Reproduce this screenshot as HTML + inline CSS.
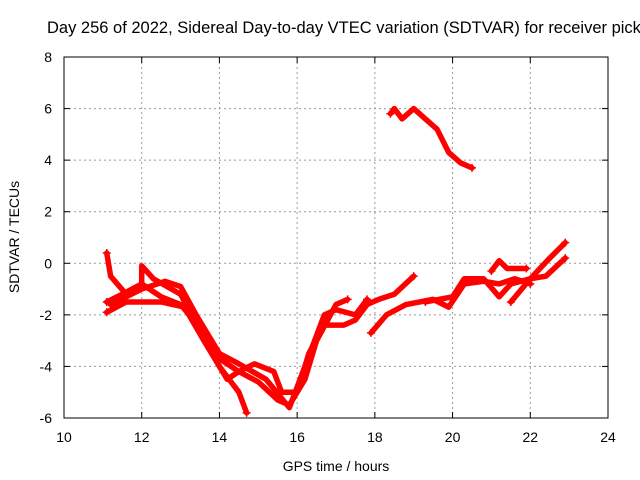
<!DOCTYPE html>
<html><head><meta charset="utf-8"><style>
html,body{margin:0;padding:0;background:#fff;overflow:hidden}
svg{display:block;font-family:"Liberation Sans",sans-serif}
</style></head><body>
<svg id="chart" width="640" height="480">
<text x="47" y="33" font-size="16.5" fill="#000">Day 256 of 2022, Sidereal Day-to-day VTEC variation (SDTVAR) for receiver pickle</text>
<g id="grid"></g>
<g id="series"></g>
<rect x="64" y="57" width="544" height="361" fill="none" stroke="#000" stroke-width="1"/>
<g id="ticks"></g>
<text x="336" y="471" font-size="14" text-anchor="middle">GPS time / hours</text>
<text transform="translate(19,237) rotate(-90)" font-size="14" text-anchor="middle">SDTVAR / TECUs</text>
</svg>
<script>
const xTicks=[10,12,14,16,18,20,22,24];
const yTicks=[-6,-4,-2,0,2,4,6,8];
const trackA=[[11.1,0.4],[11.2,-0.5],[11.6,-1.2],[12.0,-0.8],[12.5,-1.3],[13.0,-1.6],[13.5,-2.5],[14.0,-4.0],[14.5,-5.0],[14.7,-5.8]];
const trackB=[[11.1,-1.5],[11.5,-1.2],[12.0,-0.8],[12.0,-0.1],[12.3,-0.6],[13.0,-1.2],[13.5,-2.6],[14.0,-3.7],[14.5,-4.2],[15.0,-4.6],[15.5,-5.3],[15.8,-5.5],[16.2,-4.5],[16.5,-3.0],[17.0,-1.6],[17.3,-1.4]];
const trackC=[[11.1,-1.9],[11.6,-1.5],[12.5,-1.5],[13.1,-1.7],[13.6,-3.0],[14.2,-4.5],[14.5,-4.2],[14.9,-3.9],[15.4,-4.2],[15.6,-5.0],[16.0,-5.0],[16.3,-3.5],[16.7,-2.4],[17.2,-2.4],[17.5,-2.2],[17.8,-1.6],[18.1,-1.4],[18.5,-1.2],[19.0,-0.5]];
const trackD=[[11.2,-1.6],[12.0,-1.0],[12.6,-0.7],[13.0,-0.9],[13.4,-2.0],[14.0,-3.5],[14.5,-3.9],[15.2,-4.5],[15.8,-5.6],[16.2,-4.0],[16.7,-2.0],[17.0,-1.8],[17.5,-2.0],[17.8,-1.4]];
const trackE=[[17.9,-2.7],[18.3,-2.0],[18.8,-1.6],[19.5,-1.4],[19.9,-1.7],[20.3,-0.8],[20.8,-0.7],[21.2,-0.8],[21.6,-0.6],[22.0,-0.8]];
const trackF=[[19.3,-1.5],[20.0,-1.3],[20.3,-0.6],[20.8,-0.6],[21.2,-1.3],[21.5,-0.8],[22.0,-0.6],[22.4,-0.5],[22.9,0.2]];
const trackG=[[21.5,-1.5],[22.0,-0.6],[22.5,0.2],[22.9,0.8]];
const trackH=[[21.0,-0.3],[21.2,0.1],[21.4,-0.2],[21.7,-0.2],[21.9,-0.2]];
const trackI=[[18.4,5.8],[18.5,6.0],[18.7,5.6],[19.0,6.0],[19.3,5.6],[19.6,5.2],[19.9,4.3],[20.2,3.9],[20.5,3.7]];
const tracks=[trackA,trackB,trackC,trackD,trackE,trackF,trackG,trackH,trackI];

const NS='http://www.w3.org/2000/svg';
const X0=64,X1=608,Y0=418,Y1=57;
function sx(h){return X0+(h-10)/(24-10)*(X1-X0);}
function sy(v){return Y0-(v+6)/(8+6)*(Y0-Y1);}
function mk(t,a,parent){const e=document.createElementNS(NS,t);for(const k in a)e.setAttribute(k,a[k]);parent.appendChild(e);return e;}
const grid=document.getElementById('grid'),ticks=document.getElementById('ticks'),ser=document.getElementById('series');
xTicks.forEach(t=>{
  const x=sx(t);
  if(t>10&&t<24){const g=mk('line',{x1:x,x2:x,y1:Y1,y2:Y0,stroke:'#999','stroke-dasharray':'2,3'},grid);
  
  }
  const a=mk('line',{x1:x,x2:x,y1:Y0,y2:Y0-6,stroke:'#000'},ticks);
  
  
  const b=mk('line',{x1:x,x2:x,y1:Y1,y2:Y1+6,stroke:'#000'},ticks);
  
  
  const l=mk('text',{x:x,y:442,'font-size':14,'text-anchor':'middle'},ticks);l.textContent=t;
  
  
});
yTicks.forEach(t=>{
  const y=sy(t);
  if(t>-6&&t<8){const g=mk('line',{x1:X0,x2:X1,y1:y,y2:y,stroke:'#999','stroke-dasharray':'2,3'},grid);
  
  }
  const a=mk('line',{x1:X0,x2:X0+6,y1:y,y2:y,stroke:'#000'},ticks);
  
  
  const b=mk('line',{x1:X1,x2:X1-6,y1:y,y2:y,stroke:'#000'},ticks);
  
  
  const l=mk('text',{x:52,y:y+5,'font-size':14,'text-anchor':'end'},ticks);l.textContent=t;
  
  
});
tracks.forEach((tr,i)=>{
  const p=mk('polyline',{points:tr.map(d=>sx(d[0])+','+sy(d[1])).join(' '),fill:'none',stroke:'#f00','stroke-width':5.5,'stroke-linejoin':'round','stroke-linecap':'round'},ser);
  
  
  [tr[0],tr[tr.length-1]].forEach(d=>{
    const m=mk('path',{d:`M${sx(d[0])-4},${sy(d[1])}h8M${sx(d[0])},${sy(d[1])-4}v8`,stroke:'#f00','stroke-width':1.5},ser);
    
    
  });
});
</script>
</body></html>
